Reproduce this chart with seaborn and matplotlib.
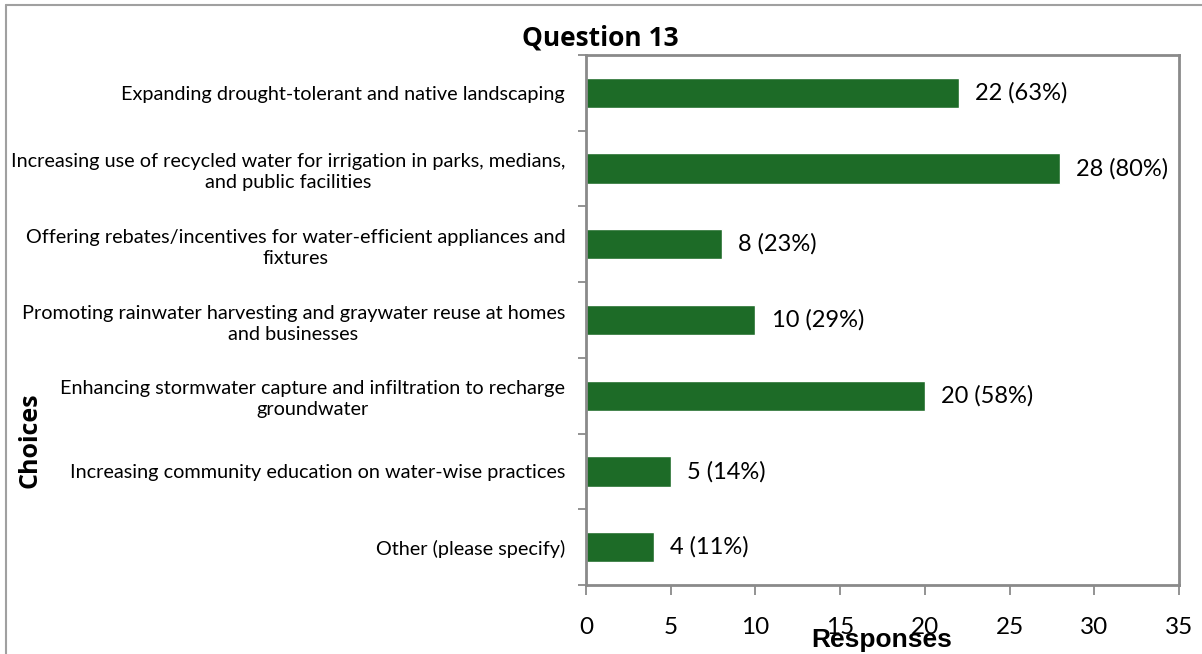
import matplotlib
matplotlib.use("Agg")
import matplotlib.pyplot as plt
import seaborn as sns
import pandas as pd
from matplotlib.lines import Line2D
from matplotlib.ticker import FixedLocator

# data
choices = [
    "Expanding drought-tolerant and native landscaping",
    "Increasing use of recycled water for irrigation in parks, medians,\nand public facilities",
    "Offering rebates/incentives for water-efficient appliances and\nfixtures",
    "Promoting rainwater harvesting and graywater reuse at homes\nand businesses",
    "Enhancing stormwater capture and infiltration to recharge\ngroundwater",
    "Increasing community education on water-wise practices",
    "Other (please specify)",
]
responses = [22, 28, 8, 10, 20, 5, 4]
bar_labels = ["22 (63%)", "28 (80%)", "8 (23%)", "10 (29%)", "20 (58%)", "5 (14%)", "4 (11%)"]

df = pd.DataFrame({"Choices": choices, "Responses": responses})

sns.set_style("white")
plt.rcParams["font.family"] = ["Lato", "DejaVu Sans"]
plt.rcParams["text.color"] = "black"
plt.rcParams["xtick.labelcolor"] = "black"
plt.rcParams["ytick.labelcolor"] = "black"

fig = plt.figure(figsize=(12.02, 6.54), dpi=100)
ax = fig.add_axes([586 / 1202, 1 - 585 / 654, (1179 - 586) / 1202, (585 - 55) / 654])

green = "#1d6b27"
sns.barplot(data=df, y="Choices", x="Responses", orient="h", color=green,
            width=0.4, saturation=1, ax=ax)

ax.set_xlim(0, 35)
ax.set_ylim(6.5, -0.5)
ax.set_xticks(range(0, 36, 5))

# value labels
for i, (v, lab) in enumerate(zip(responses, bar_labels)):
    ax.text(v + 0.95, i, lab, va="center", ha="left", fontsize=17)

grey = "#8a8a8a"
for s in ax.spines.values():
    s.set_color(grey)
    s.set_linewidth(2)

ax.tick_params(axis="x", direction="out", length=7, width=1.3, color=grey,
               labelsize=17.5, pad=16, bottom=True)
ax.tick_params(axis="y", which="major", length=0, labelsize=14.3, pad=15)
ax.yaxis.set_minor_locator(FixedLocator([i - 0.5 for i in range(len(choices) + 1)]))
ax.tick_params(axis="y", which="minor", direction="out", length=6, width=1.3,
               color=grey, left=True)
for t in ax.get_yticklabels():
    t.set_multialignment("center")
    t.set_linespacing(1.3)

ax.set_xlabel("")
ax.set_ylabel("")
fig.text(882 / 1202, 1 - 640 / 654, "Responses", ha="center", va="center",
         fontsize=19, fontweight="bold", family="Liberation Sans")
fig.text(30 / 1202, 1 - 440 / 654, "Choices", ha="center", va="center",
         rotation=90, fontsize=18, fontweight="bold", family="Open Sans")
fig.text(600 / 1202, 1 - 38 / 654, "Question 13", ha="center", va="center",
         fontsize=19, fontweight="bold", family="Open Sans")

# outer chart border (left and top edges visible)
fig.add_artist(Line2D([6 / 1202, 6 / 1202], [0, 1 - 5 / 654], color="#a0a0a0", lw=1.5))
fig.add_artist(Line2D([6 / 1202, 1], [1 - 5 / 654, 1 - 5 / 654], color="#a0a0a0", lw=1.5))

fig.savefig("out.png", dpi=100)
